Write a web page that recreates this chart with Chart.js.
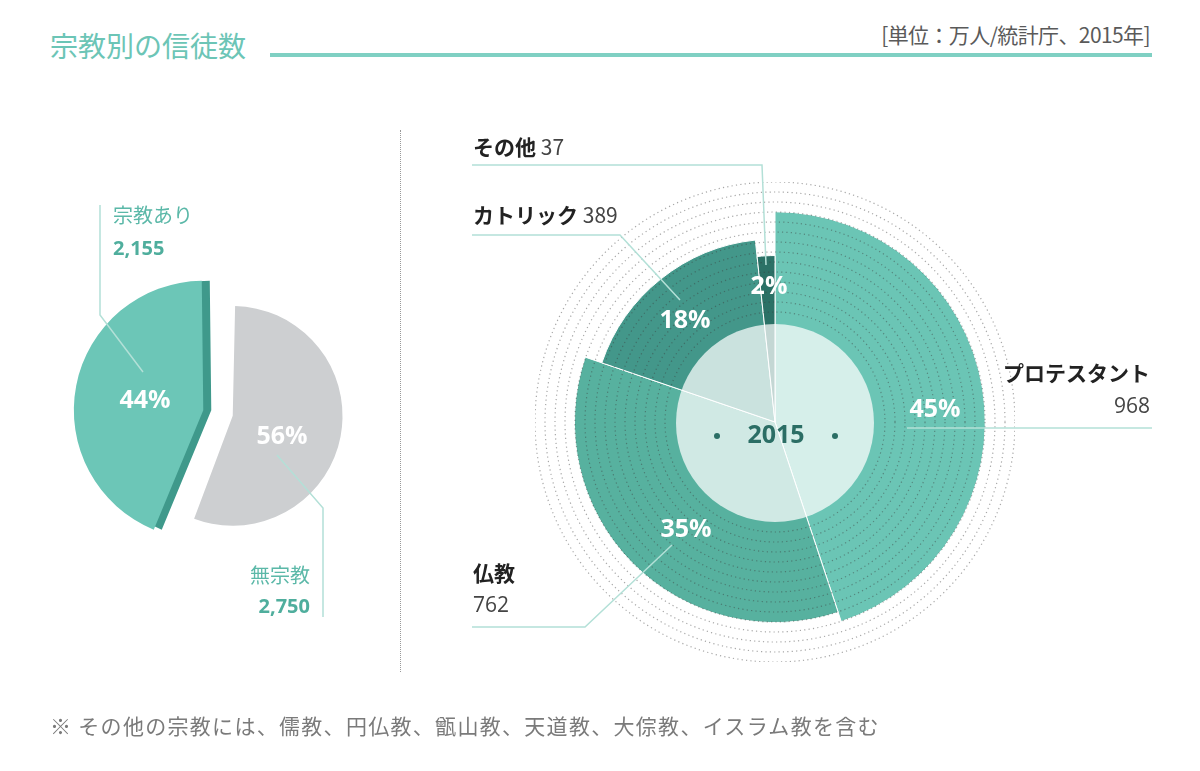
<!DOCTYPE html>
<html lang="ja">
<head>
<meta charset="utf-8">
<title>宗教別の信徒数</title>
<script src="https://cdn.jsdelivr.net/npm/chart.js@4.4.1/dist/chart.umd.min.js"></script>
<style>
  html, body { margin: 0; padding: 0; background: #fff; }
  body { width: 1200px; height: 771px; position: relative; overflow: hidden;
         font-family: "Open Sans", "Noto Sans CJK JP", sans-serif; }
  .abs { position: absolute; white-space: nowrap; line-height: 1; }
  #title { left: 50px; top: 31px; font-size: 28px; color: #6cc5b6; font-family: "Noto Sans CJK JP"; }
  #rule { position: absolute; left: 270px; top: 53px; width: 882px; height: 4px; background: #7fd0c3; }
  #unit { right: 50px; top: 24px; font-size: 21px; color: #5a5a5a; font-family: "Noto Sans CJK JP"; letter-spacing: -0.6px; }
  #sep { position: absolute; left: 400px; top: 130px; height: 542px; border-left: 1px dotted #999; }
  #note { left: 50px; top: 715px; font-size: 21px; color: #7a7a7a; letter-spacing: 1.3px; font-family: "Noto Sans CJK JP"; }
  canvas { position: absolute; }
  #pie { left: 38px; top: 233px; }
  #polar { left: 535px; top: 182px; }
  svg { position: absolute; left: 0; top: 0; }
  .pct { color: #fff; font-weight: 700; font-size: 25px; transform: translate(-50%, -50%); }
  .tl { color: #5bb8a8; font-size: 20px; font-family: "Noto Sans CJK JP"; }
  .tv { color: #4fae9d; font-size: 20px; font-weight: 700; }
  .rn { color: #222; font-size: 21px; font-weight: 700; font-family: "Noto Sans CJK JP"; }
  .rv { color: #444; font-size: 21px; }
</style>
</head>
<body>
<div id="title" class="abs">宗教別の信徒数</div>
<div id="rule"></div>
<div id="unit" class="abs">[単位：万人/統計庁、2015年]</div>
<div id="sep"></div>
<canvas id="pie" width="360" height="360"></canvas>
<canvas id="polar" width="480" height="480"></canvas>
<svg width="1200" height="771">
  <g fill="none" stroke="#b3e0d7" stroke-width="1.5">
    <polyline points="100,205 100,315 143,372"/>
    <polyline points="277,455 323,508 323,617"/>
    <polyline points="472,165 762,165 766,265"/>
    <polyline points="472,235 620,235 680,300"/>
    <polyline points="907,428 1152,428"/>
    <polyline points="472,627 585,627 672,545"/>
  </g>
</svg>
<div id="labels"></div>
<div id="note" class="abs">※ その他の宗教には、儒教、円仏教、甑山教、天道教、大倧教、イスラム教を含む</div>

<script>
// 宗教の有無 (万人)
const faithLabels = ['無宗教', '宗教あり'];
const faithValues = [2750, 2155];
const faithColors = ['#cdcfd1', '#6cc6b7'];

// 宗教別 (万人)
const religionLabels = ['プロテスタント', '仏教', 'カトリック', 'その他'];
const religionValues = [968, 762, 389, 37];
const religionColors = ['#6bc5b5', '#57b19f', '#43978a', '#2b7166'];

const surveyYear = '2015';

const faithTotal = faithValues.reduce((a, b) => a + b, 0);
const religionTotal = religionValues.reduce((a, b) => a + b, 0);
const pct = (v, t) => Math.round(v / t * 100) + '%';
const fmt = v => v.toLocaleString('en-US');

// left pie: the smaller grey slice and the dark side of the teal slice
const pieShape = {
  id: 'pieShape',
  afterDatasetsUpdate(chart) {
    const arcs = chart.getDatasetMeta(0).data;
    arcs[0].outerRadius = arcs[0].outerRadius * 0.79;
  },
  beforeDatasetsDraw(chart) {
    const arc = chart.getDatasetMeta(0).data[1];
    const side = new Chart.ArcElement({
      x: arc.x, y: arc.y,
      startAngle: arc.startAngle, endAngle: arc.endAngle,
      circumference: arc.circumference,
      innerRadius: 0, outerRadius: arc.outerRadius,
      options: Object.assign({}, arc.options, {backgroundColor: '#3f998b', borderWidth: 0})
    });
    const ctx = chart.ctx;
    ctx.save();
    ctx.translate(8, 0);
    side.draw(ctx);
    ctx.restore();
  }
};

new Chart(document.getElementById('pie'), {
  type: 'pie',
  data: {
    labels: faithLabels,
    datasets: [{
      data: faithValues,
      backgroundColor: faithColors,
      borderWidth: 0,
      offset: 60,
      radius: 120
    }]
  },
  options: {
    responsive: false,
    animation: false,
    layout: {padding: 0},
    plugins: {legend: {display: false}, tooltip: {enabled: false}}
  },
  plugins: [pieShape]
});

// right chart: light disc in the middle with the year
const discRadius = 99;
const centerDisc = {
  id: 'centerDisc',
  afterDraw(chart) {
    const r = chart.scales.r;
    const ctx = chart.ctx;
    ctx.save();
    ctx.beginPath();
    ctx.arc(r.xCenter, r.yCenter + 1, discRadius, 0, Math.PI * 2);
    ctx.fillStyle = 'rgba(255,255,255,0.72)';
    ctx.fill();
    ctx.fillStyle = '#2b6e65';
    [-58, 60].forEach(dx => {
      ctx.beginPath();
      ctx.arc(r.xCenter + dx, r.yCenter + 14, 3, 0, Math.PI * 2);
      ctx.fill();
    });
    ctx.font = '700 25px "Open Sans"';
    ctx.textAlign = 'center';
    ctx.textBaseline = 'middle';
    ctx.fillText(surveyYear, r.xCenter + 1, r.yCenter + 14);
    ctx.restore();
  }
};

new Chart(document.getElementById('polar'), {
  type: 'polarArea',
  data: {
    labels: religionLabels,
    datasets: [{
      data: religionValues,
      backgroundColor: religionColors,
      borderColor: '#ffffff',
      borderWidth: 1,
      angle: ctx => ctx.raw / religionTotal * 360
    }]
  },
  options: {
    responsive: false,
    animation: false,
    layout: {padding: 0},
    plugins: {legend: {display: false}, tooltip: {enabled: false}},
    scales: {
      r: {
        min: -3500,
        max: 1600,
        ticks: {display: false, stepSize: 212.5},
        grid: {
          z: 1,
          lineWidth: 1.2,
          color: ctx => {
            const s = ctx.chart.scales.r;
            const d = s.getDistanceFromCenterForValue(ctx.tick.value);
            return d <= discRadius + 2 ? 'rgba(0,0,0,0)' : 'rgba(60,60,60,0.45)';
          }
        },
        border: {dash: [1.2, 3.2]},
        angleLines: {display: false},
        pointLabels: {display: false}
      }
    }
  },
  plugins: [centerDisc]
});

// labels
const box = document.getElementById('labels');
function put(text, x, y, cls, align) {
  const d = document.createElement('div');
  d.className = 'abs ' + cls;
  d.textContent = text;
  d.style.top = y + 'px';
  if (align === 'right') d.style.right = (1200 - x) + 'px';
  else d.style.left = x + 'px';
  box.appendChild(d);
  return d;
}
function pctLabel(text, x, y) {
  put(text, x, y, 'pct');
}

put(faithLabels[1], 113, 205, 'tl');
put(fmt(faithValues[1]), 113, 238, 'tv');
put(faithLabels[0], 310, 565, 'tl', 'right');
put(fmt(faithValues[0]), 310, 596, 'tv', 'right');
pctLabel(pct(faithValues[1], faithTotal), 145, 398);
pctLabel(pct(faithValues[0], faithTotal), 282, 434);

function nameValue(i, x, y) {
  const d = put(religionLabels[i] + ' ', x, y, 'rn');
  const s = document.createElement('span');
  s.className = 'rv';
  s.style.fontWeight = '400';
  s.textContent = fmt(religionValues[i]);
  d.appendChild(s);
}
nameValue(3, 473, 136);
nameValue(2, 473, 204);
put(religionLabels[0], 1150, 362, 'rn', 'right');
put(fmt(religionValues[0]), 1150, 395, 'rv', 'right');
put(religionLabels[1], 473, 562, 'rn');
put(fmt(religionValues[1]), 473, 594, 'rv');

pctLabel(pct(religionValues[0], religionTotal), 935, 407);
pctLabel(pct(religionValues[1], religionTotal), 686, 527);
pctLabel(pct(religionValues[2], religionTotal), 685, 318);
pctLabel(pct(religionValues[3], religionTotal), 769, 284);
</script>
</body>
</html>
